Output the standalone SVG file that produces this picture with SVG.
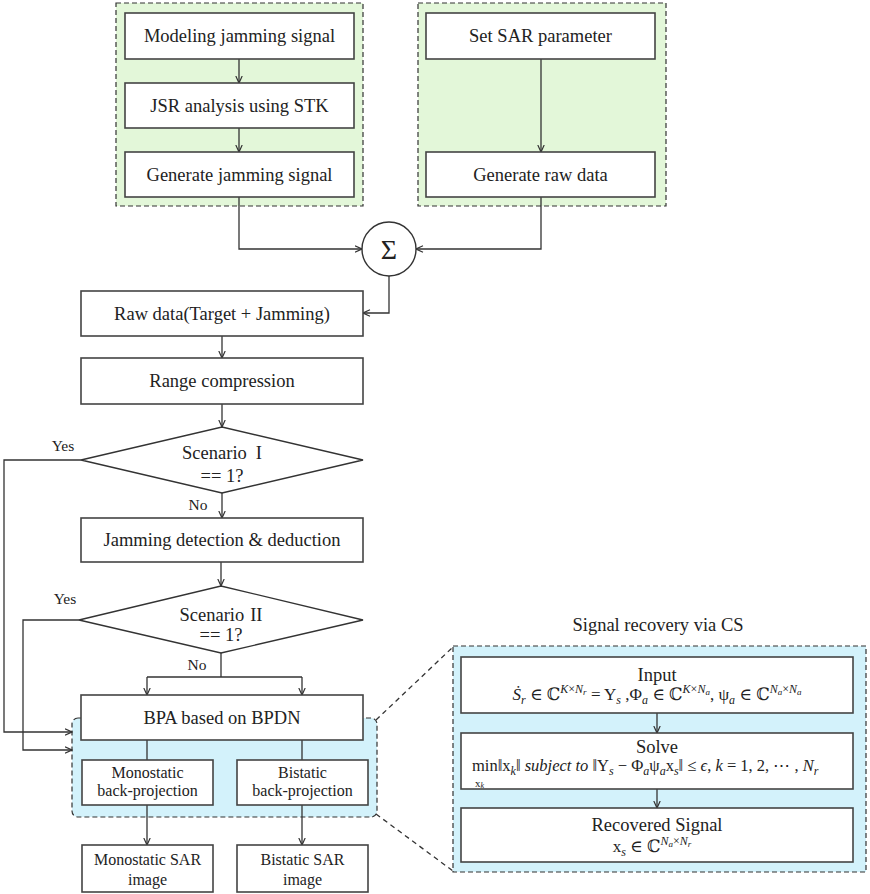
<svg xmlns="http://www.w3.org/2000/svg" width="870" height="894" viewBox="0 0 870 894">
<defs>
<marker id="ah" viewBox="0 0 8 8" refX="7.5" refY="4" markerWidth="8" markerHeight="8" markerUnits="userSpaceOnUse" orient="auto">
<path d="M0.5,0.8 L7.5,4 L0.5,7.2" fill="none" stroke="#333" stroke-width="1.2"/>
</marker>
<style>
.bg{fill:#fff}
.box{fill:#fff;stroke:#444;stroke-width:1.6}
.grp-g{fill:#e3f7d9;stroke:#333;stroke-width:1.2;stroke-dasharray:5 3}
.grp-b{fill:#d3f2fb;stroke:#333;stroke-width:1.2;stroke-dasharray:5 3}
.ln{fill:none;stroke:#333;stroke-width:1.3}
.arr{fill:none;stroke:#333;stroke-width:1.3;marker-end:url(#ah)}
.dash{fill:none;stroke:#333;stroke-width:1.3;stroke-dasharray:5 4}
text{font-family:"Liberation Serif","DejaVu Serif",serif;fill:#222}
.t{font-size:18.5px;text-anchor:middle}
.ts{font-size:16px;text-anchor:middle}
.lbl{font-size:15.5px;text-anchor:middle}
.m{font-size:17px}
.m2{font-size:16.5px}
.i{font-style:italic}
.s{font-size:12px}
.ss{font-size:9px}
</style>
</defs>
<rect class="bg" x="0" y="0" width="870" height="894"/>

<g id="group-jamming">
<rect class="grp-g" x="116" y="3" width="247" height="203"/>
</g>
<g id="group-sar">
<rect class="grp-g" x="418" y="3" width="248" height="203"/>
</g>
<g id="group-bpa">
<rect class="grp-b" x="72" y="718" width="305" height="99" rx="6"/>
</g>
<g id="group-cs">
<rect class="grp-b" x="453" y="646" width="413" height="226"/>
<text class="t" x="658" y="631">Signal recovery via CS</text>
</g>

<g id="connectors">
<path class="arr" d="M239,59 V83"/>
<path class="arr" d="M239,128 V152"/>
<path class="arr" d="M541,59 V152"/>
<path class="arr" d="M239,197 V249 H362"/>
<path class="arr" d="M541,197 V249 H416"/>
<path class="arr" d="M389,276 V313 H363"/>
<path class="arr" d="M222,336 V358"/>
<path class="arr" d="M222,404 V427"/>
<path class="arr" d="M222,493 V518"/>
<path class="arr" d="M221,562 V586"/>
<path class="ln" d="M221,653 V677 M147,677 H302"/>
<path class="arr" d="M147,677 V695"/>
<path class="arr" d="M302,677 V695"/>
<path class="arr" d="M81,460 H4 V732 H72"/>
<path class="arr" d="M79,620 H23 V750 H72"/>
<path class="ln" d="M147,740 V760 M302,740 V760"/>
<path class="arr" d="M147,805 V845"/>
<path class="arr" d="M302,805 V845"/>
<path class="arr" d="M657,713 V733"/>
<path class="arr" d="M657,789 V808"/>
<path class="dash" d="M376,720 L453,647 M376,814 L453,871"/>
<text class="lbl" x="63" y="451">Yes</text>
<text class="lbl" x="198" y="510">No</text>
<text class="lbl" x="65" y="604">Yes</text>
<text class="lbl" x="197" y="670">No</text>
</g>

<g id="n-modeling"><rect class="box" x="125" y="13" width="229" height="46"/><text class="t" x="239.5" y="42">Modeling jamming signal</text></g>
<g id="n-jsr"><rect class="box" x="125" y="83" width="229" height="45"/><text class="t" x="239.5" y="111.5">JSR analysis using STK</text></g>
<g id="n-genjam"><rect class="box" x="125" y="152" width="229" height="45"/><text class="t" x="239.5" y="180.5">Generate jamming signal</text></g>
<g id="n-setsar"><rect class="box" x="426" y="13" width="229" height="46"/><text class="t" x="540.5" y="42">Set SAR parameter</text></g>
<g id="n-genraw"><rect class="box" x="426" y="152" width="229" height="45"/><text class="t" x="540.5" y="180.5">Generate raw data</text></g>
<g id="n-sum"><circle cx="389" cy="249" r="27" fill="#fff" stroke="#333" stroke-width="1.4"/><text x="389" y="259" style="font-size:28px;text-anchor:middle">Σ</text></g>
<g id="n-raw"><rect class="box" x="81" y="291" width="282" height="45"/><text class="t" x="222" y="319.5">Raw data(Target + Jamming)</text></g>
<g id="n-range"><rect class="box" x="81" y="358" width="282" height="46"/><text class="t" x="222" y="387">Range compression</text></g>
<g id="n-sc1"><polygon points="81,460 222,427 363,460 222,493" fill="#fff" stroke="#333" stroke-width="1.4"/><text class="t" x="222" y="459">Scenario<tspan dx="9">I</tspan></text><text class="t" x="222" y="482">== 1?</text></g>
<g id="n-jamdet"><rect class="box" x="81" y="518" width="282" height="44"/><text class="t" x="222" y="546">Jamming detection &amp; deduction</text></g>
<g id="n-sc2"><polygon points="79,620 221,586 363,620 221,653" fill="#fff" stroke="#333" stroke-width="1.4"/><text class="t" x="221" y="621">Scenario<tspan dx="6">II</tspan></text><text class="t" x="221" y="641">== 1?</text></g>
<g id="n-bpa"><rect class="box" x="81" y="695" width="282" height="45"/><text class="t" x="222" y="723.5">BPA based on BPDN</text></g>
<g id="n-monobp"><rect class="box" x="82" y="760" width="131" height="45"/><text class="ts" x="147.5" y="778">Monostatic</text><text class="ts" x="147.5" y="796">back-projection</text></g>
<g id="n-bibp"><rect class="box" x="237" y="760" width="131" height="45"/><text class="ts" x="302.5" y="778">Bistatic</text><text class="ts" x="302.5" y="796">back-projection</text></g>
<g id="n-monoimg"><rect class="box" x="82" y="845" width="131" height="47"/><text class="ts" x="147.5" y="865">Monostatic SAR</text><text class="ts" x="147.5" y="885">image</text></g>
<g id="n-biimg"><rect class="box" x="237" y="845" width="131" height="47"/><text class="ts" x="302.5" y="865">Bistatic SAR</text><text class="ts" x="302.5" y="885">image</text></g>

<g id="n-input"><rect class="box" x="461" y="657" width="392" height="56"/>
<text class="t" x="657" y="681">Input</text>
<text class="m" x="657" y="700" text-anchor="middle"><tspan class="i">Ṡ</tspan><tspan class="i s" dy="4">r</tspan><tspan dy="-4"> ∈ ℂ</tspan><tspan class="i s" dy="-7">K</tspan><tspan class="s">×</tspan><tspan class="i s">N</tspan><tspan class="i ss" dy="2">r</tspan><tspan dy="5"> = Y</tspan><tspan class="i s" dy="4">s</tspan><tspan dy="-4"> ,Φ</tspan><tspan class="i s" dy="4">a</tspan><tspan dy="-4"> ∈ ℂ</tspan><tspan class="i s" dy="-7">K</tspan><tspan class="s">×</tspan><tspan class="i s">N</tspan><tspan class="i ss" dy="2">a</tspan><tspan dy="5">, ψ</tspan><tspan class="i s" dy="4">a</tspan><tspan dy="-4"> ∈ ℂ</tspan><tspan class="i s" dy="-7">N</tspan><tspan class="i ss" dy="2">a</tspan><tspan class="s" dy="-2">×</tspan><tspan class="i s">N</tspan><tspan class="i ss" dy="2">a</tspan></text>
</g>
<g id="n-solve"><rect class="box" x="461" y="733" width="392" height="56"/>
<text class="t" x="657" y="753">Solve</text>
<text class="m2" x="472" y="771">min‖x<tspan class="i s" dy="4">k</tspan><tspan dy="-4">‖ </tspan><tspan class="i">subject to</tspan> ‖Y<tspan class="i s" dy="4">s</tspan><tspan dy="-4"> − Φ</tspan><tspan class="i s" dy="4">a</tspan><tspan dy="-4">ψ</tspan><tspan class="i s" dy="4">a</tspan><tspan dy="-4">x</tspan><tspan class="i s" dy="4">s</tspan><tspan dy="-4">‖ ≤ </tspan><tspan class="i">ϵ</tspan>, <tspan class="i">k</tspan> = 1, 2, ⋯ , <tspan class="i">N</tspan><tspan class="i s" dy="4">r</tspan></text>
<text x="475" y="787" style="font-size:11px">x<tspan class="i" style="font-size:8px" dy="1">k</tspan></text>
</g>
<g id="n-recovered"><rect class="box" x="461" y="808" width="392" height="54"/>
<text class="t" x="657" y="831">Recovered Signal</text>
<text class="m" x="652" y="852" text-anchor="middle">x<tspan class="i s" dy="4">s</tspan><tspan dy="-4"> ∈  ℂ</tspan><tspan class="i s" dy="-7">N</tspan><tspan class="i ss" dy="2">a</tspan><tspan class="s" dy="-2">×</tspan><tspan class="i s">N</tspan><tspan class="i ss" dy="2">r</tspan></text>
</g>
</svg>
